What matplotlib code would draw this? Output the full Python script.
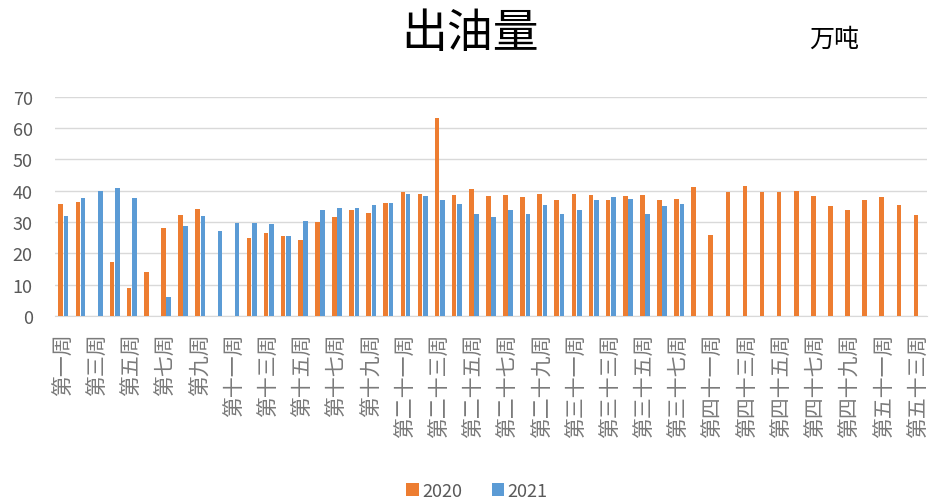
import numpy as np
import matplotlib
matplotlib.use("Agg")
import matplotlib.pyplot as plt

plt.rcParams["font.family"] = ["Noto Sans CJK SC", "DejaVu Sans"]

# weeks 39 and 40 are absent from the source table
weeks = ["第一周", "第二周", "第三周", "第四周", "第五周", "第六周", "第七周", "第八周", "第九周", "第十周",
         "第十一周", "第十二周", "第十三周", "第十四周", "第十五周", "第十六周", "第十七周", "第十八周",
         "第十九周", "第二十周", "第二十一周", "第二十二周", "第二十三周", "第二十四周", "第二十五周",
         "第二十六周", "第二十七周", "第二十八周", "第二十九周", "第三十周", "第三十一周", "第三十二周",
         "第三十三周", "第三十四周", "第三十五周", "第三十六周", "第三十七周", "第三十八周",
         "第四十一周", "第四十二周", "第四十三周", "第四十四周", "第四十五周", "第四十六周", "第四十七周",
         "第四十八周", "第四十九周", "第五十周", "第五十一周", "第五十二周", "第五十三周"]
nan = np.nan
y2020 = [35.8, 36.3, nan, 17.1, 9.1, 14.1, 28.0, 32.3, 34.2, nan,
         nan, 24.8, 26.5, 25.6, 24.4, 29.9, 31.7, 33.9, 32.9, 36.2,
         39.5, 39.1, 63.4, 38.7, 40.5, 38.2, 38.7, 37.9, 39.1, 37.1,
         39.1, 38.7, 37.1, 38.2, 38.7, 37.1, 37.5, 41.1,
         26.0, 39.5, 41.6, 39.5, 39.5, 40.0, 38.2, 35.0, 33.8, 37.1, 37.9, 35.5, 32.2]
y2021 = [31.8, 37.6, 40.0, 40.8, 37.6, nan, 6.2, 28.8, 31.8, 27.2,
         29.7, 29.7, 29.3, 25.6, 30.4, 33.8, 34.6, 34.6, 35.5, 36.2,
         39.1, 38.4, 37.1, 35.8, 32.5, 31.7, 33.8, 32.5, 35.5, 32.5,
         33.8, 37.1, 37.9, 37.5, 32.5, 35.0, 35.8, nan,
         nan, nan, nan, nan, nan, nan, nan, nan, nan, nan, nan, nan, nan]

GREY = "#595959"
fig = plt.figure(figsize=(9.3, 5.02), dpi=100)
ax = fig.add_axes([0.059, 0.3685, 0.938, 0.4365])
x = np.arange(len(weeks))
w = 0.27
ax.bar(x - 0.155, y2020, w, color="#ED7D31", label="2020", zorder=3)
ax.bar(x + 0.155, y2021, w, color="#5B9BD5", label="2021", zorder=3)

ax.set_xlim(-0.5, len(weeks) - 0.5)
ax.set_ylim(0, 70)
ax.set_yticks(range(0, 71, 10))
ax.grid(axis="y", color="#d9d9d9", lw=1, zorder=0)
for s in ["top", "right", "left"]:
    ax.spines[s].set_visible(False)
ax.spines["bottom"].set_color("#d9d9d9")
ax.tick_params(length=0, colors=GREY)
ax.tick_params(axis="y", labelsize=13, pad=16)
ax.set_xticks(x[::2])
ax.set_xticklabels(weeks[::2], rotation=90, fontsize=15, color="#7a7a7a", va="top", ha="center")
ax.tick_params(axis="x", pad=12)

fig.text(0.505, 0.932, "出油量", ha="center", va="center", fontsize=33, color="black")
fig.text(0.897, 0.921, "万吨", ha="center", va="center", fontsize=18, color="black")

leg = fig.legend(loc="center", bbox_to_anchor=(0.513, 0.02), ncol=2, frameon=False,
                 handlelength=0.7, handleheight=0.7, handletextpad=0.2, columnspacing=1.6,
                 fontsize=13)
for t in leg.get_texts():
    t.set_color(GREY)

fig.savefig("out.png", dpi=100)
